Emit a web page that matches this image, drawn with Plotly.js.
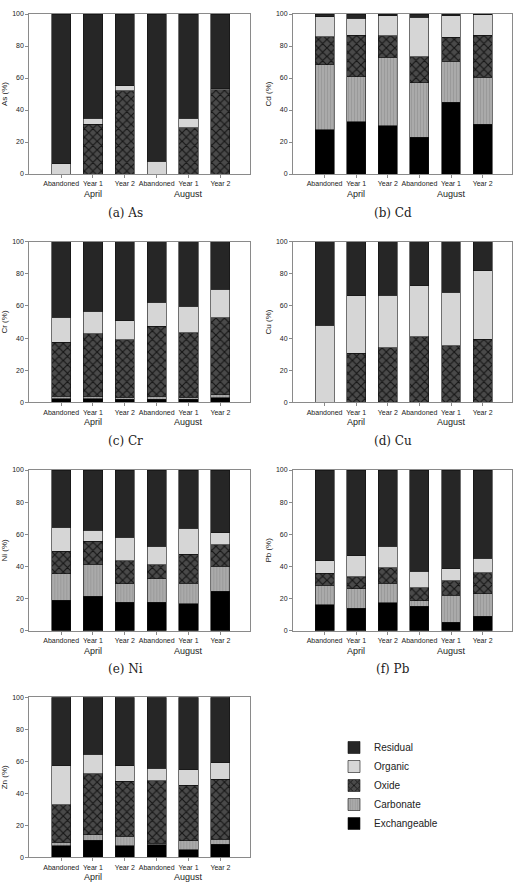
<!DOCTYPE html>
<html>
<head>
<meta charset="utf-8">
<script src="https://cdn.plot.ly/plotly-3.0.1.min.js"></script>
<style>
  html, body { margin: 0; padding: 0; background: #fff; }
  #chart { width: 523px; height: 889px; }
</style>
</head>
<body>
<div id="chart"></div>
<script>
// ---------- DATA ----------
const sites = ["Abandoned", "Year 1", "Year 2", "Abandoned", "Year 1", "Year 2"];
const months = ["April", "April", "April", "August", "August", "August"];
const fractions = ["Exchangeable", "Carbonate", "Oxide", "Organic", "Residual"];
const yTicks = [0, 20, 40, 60, 80, 100];

// each metal: [Exchangeable, Carbonate, Oxide, Organic, Residual] (%)
const valuesAs = [
  [0, 0, 0, 0, 0, 0],
  [0, 0, 0, 0, 0, 0],
  [0, 31, 52, 0, 29, 52.6],
  [6.5, 4, 3.3, 8, 6, 0.7],
  [93.5, 65, 44.7, 92, 65, 46.7]
];
const valuesCd = [
  [27.7, 32.6, 30.1, 23.1, 44.7, 31.2],
  [40.5, 28.1, 42.9, 33.9, 25.8, 29.3],
  [17.7, 26, 13.5, 16.2, 14.9, 26.2],
  [12.4, 10.6, 12.5, 24.9, 13.6, 12.7],
  [1.7, 2.7, 1, 1.9, 1, 0.6]
];
const valuesCr = [
  [2.3, 2.3, 2, 2, 2, 2.7],
  [1.4, 1.4, 1.3, 1.7, 1.3, 1.9],
  [33.6, 39, 35.7, 43.6, 39.9, 47.9],
  [15.8, 14.1, 11.8, 14.9, 16.6, 17.8],
  [46.9, 43.2, 49.2, 37.8, 40.2, 29.7]
];
const valuesCu = [
  [0, 0, 0, 0, 0, 0],
  [0, 0, 0, 0, 0, 0],
  [0, 30.7, 34, 40.9, 35.3, 39.4],
  [47.9, 35.7, 32.8, 31.7, 33.2, 42.5],
  [52.1, 33.6, 33.2, 27.4, 31.5, 18.1]
];
const valuesNi = [
  [18.9, 21.4, 17.6, 17.6, 16.8, 24.7],
  [16.6, 19.9, 11.7, 14.6, 12.7, 15.5],
  [13.9, 14.3, 14.1, 8.9, 18, 13.3],
  [15.1, 6.8, 14.9, 11.6, 16.2, 7.5],
  [35.5, 37.6, 41.7, 47.3, 36.3, 39]
];
const valuesPb = [
  [16.1, 14.1, 17.4, 15.3, 5.4, 8.9],
  [12.3, 12, 12.2, 3.3, 16.8, 14.1],
  [7.4, 7.6, 9.7, 8.1, 8.9, 13.2],
  [7.7, 12.9, 13.1, 10.4, 7.6, 8.9],
  [56.5, 53.4, 47.6, 62.9, 61.3, 54.9]
];
const valuesZn = [
  [7.1, 10.6, 7.3, 7.9, 4.8, 8.1],
  [2.3, 3.6, 6, 0.9, 5.6, 3.2],
  [23.5, 37.9, 34.2, 38.9, 34.6, 37.5],
  [24.2, 12.3, 9.6, 8.1, 9.6, 10.4],
  [42.9, 35.6, 42.9, 44.2, 45.4, 40.8]
];

const metals = ["As", "Cd", "Cr", "Cu", "Ni", "Pb", "Zn"];
const metalValues = [valuesAs, valuesCd, valuesCr, valuesCu, valuesNi, valuesPb, valuesZn];
const captions = ["(a) As", "(b) Cd", "(c) Cr", "(d) Cu", "(e) Ni", "(f) Pb", null];

// ---------- STYLES ----------
const fractionStyles = [
  { color: "#000000" },
  { color: "#a6a6a6", pattern: { shape: "|", bgcolor: "#aaaaaa", fgcolor: "#999999", size: 3, solidity: 0.3 } },
  { color: "#383838", pattern: { shape: "x", bgcolor: "#4a4a4a", fgcolor: "#161616", size: 6, solidity: 0.35 } },
  { color: "#d6d6d6" },
  { color: "#262626" }
];

// ---------- LAYOUT GEOMETRY (pixels) ----------
const W = 523, H = 889;
const colPx = [[29.3, 250], [293, 512]];
const rowPx = [[14, 174], [241.7, 402.3], [470, 630.7], [697.3, 857.3]];
const px2x = p => p / W;
const px2y = p => 1 - p / H;

const cats = sites.map((s, i) => months[i] + " " + s);

const traces = [];
const layout = {
  width: W, height: H,
  margin: { l: 0, r: 0, t: 0, b: 0 },
  paper_bgcolor: "#ffffff",
  plot_bgcolor: "#ffffff",
  barmode: "stack",
  bargap: 0.4,
  font: { family: "Liberation Sans, Arial, sans-serif", color: "#222" },
  showlegend: true,
  legend: {
    x: px2x(334), y: px2y(733), xanchor: "left", yanchor: "top",
    font: { size: 10, family: "Liberation Sans, Arial, sans-serif", color: "#222" },
    traceorder: "reversed",
    bgcolor: "rgba(0,0,0,0)",
    tracegroupgap: 0
  },
  annotations: []
};

metals.forEach((metal, m) => {
  const col = m % 2, row = Math.floor(m / 2);
  const xa = m === 0 ? "x" : "x" + (m + 1);
  const ya = m === 0 ? "y" : "y" + (m + 1);
  const xKey = m === 0 ? "xaxis" : "xaxis" + (m + 1);
  const yKey = m === 0 ? "yaxis" : "yaxis" + (m + 1);

  fractions.forEach((fr, f) => {
    const st = fractionStyles[f];
    const marker = { color: st.color, line: { color: "#111", width: 0.6 } };
    if (st.pattern) marker.pattern = st.pattern;
    traces.push({
      type: "bar",
      x: cats,
      y: metalValues[m][f],
      name: fr,
      legendgroup: fr,
      showlegend: m === 0,
      xaxis: xa, yaxis: ya,
      marker: marker,
      hoverinfo: "skip"
    });
  });

  layout[xKey] = {
    domain: [px2x(colPx[col][0]), px2x(colPx[col][1])],
    anchor: ya,
    type: "category",
    categoryorder: "array",
    categoryarray: cats,
    tickvals: cats,
    ticktext: sites,
    range: [-1, 5.93],
    showline: true, mirror: true, linecolor: "#8a8a8a", linewidth: 1,
    ticks: "outside", ticklen: 3, tickcolor: "#8a8a8a", tickwidth: 1,
    tickfont: { size: 7, color: "#222" },
    showgrid: false, zeroline: false, fixedrange: true
  };
  layout[yKey] = {
    domain: [px2y(rowPx[row][1]), px2y(rowPx[row][0])],
    anchor: xa,
    range: [0, 100],
    tickvals: yTicks,
    showline: true, mirror: true, linecolor: "#8a8a8a", linewidth: 1,
    ticks: "outside", ticklen: 3, tickcolor: "#8a8a8a", tickwidth: 1,
    tickfont: { size: 7, color: "#222" },
    showgrid: false, zeroline: false, fixedrange: true,
    title: { text: metal + " (%)", font: { size: 8, color: "#222" }, standoff: 3 }
  };

  // month group labels (centered under middle site of each group)
  const groups = [...new Set(months)];
  groups.forEach(g => {
    const idx = months.map((mm, i) => mm === g ? i : -1).filter(i => i >= 0);
    const center = (idx[0] + idx[idx.length - 1]) / 2;
    layout.annotations.push({
      text: g, xref: xa, yref: "paper",
      x: center, y: px2y(rowPx[row][1] + 20),
      xanchor: "center", yanchor: "middle", showarrow: false,
      font: { size: 9, color: "#222" }
    });
  });

  if (captions[m]) {
    layout.annotations.push({
      text: captions[m], xref: xa + " domain", yref: "paper",
      x: col === 0 ? 0.434 : 0.455, y: px2y(rowPx[row][1] + 38.5),
      xanchor: "center", yanchor: "middle", showarrow: false,
      font: { size: 12, family: "DejaVu Serif, Liberation Serif, serif", color: "#222" }
    });
  }
});

Plotly.newPlot("chart", traces, layout, { staticPlot: true, displayModeBar: false });
</script>
</body>
</html>
